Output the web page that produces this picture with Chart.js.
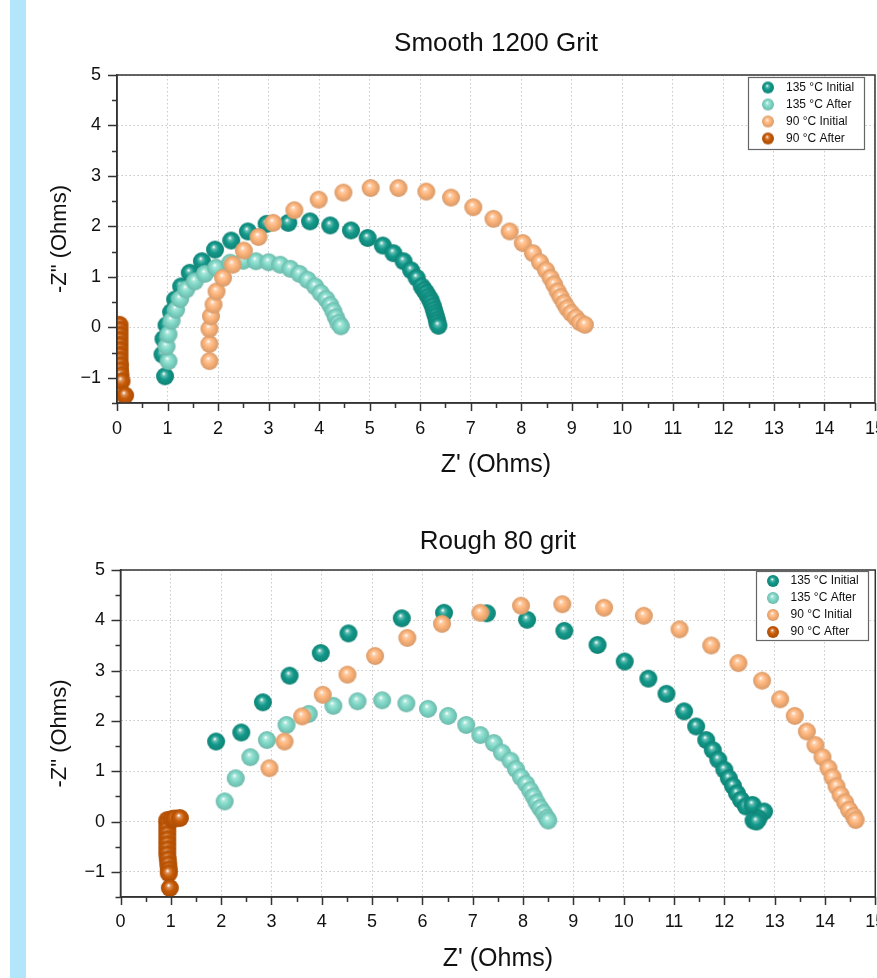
<!DOCTYPE html>
<html>
<head>
<meta charset="utf-8">
<script src="https://cdn.jsdelivr.net/npm/chart.js@4.4.1/dist/chart.umd.min.js"></script>
<style>
  html, body { margin: 0; padding: 0; background: #fff; overflow: hidden; width: 877px; height: 978px; }
  #stripe { position: absolute; left: 10px; top: 0; width: 16px; height: 978px; background: #b3e5fb; }
  canvas { position: absolute; left: 0; }
  #smoothChart { top: 0; }
  #roughChart { top: 490px; }
</style>
</head>
<body>
<div id="stripe"></div>
<canvas id="smoothChart" width="900" height="490"></canvas>
<canvas id="roughChart" width="900" height="500"></canvas>
<script>
// Series names and colours
const seriesLabels = ["135 °C Initial", "135 °C After", "90 °C Initial", "90 °C After"];
const seriesColors = ["#12998a", "#80d9c8", "#fdb47a", "#c85a06"];

// Axis ranges
const xRange = [0, 15];
const yRange = [-1.5, 5];

// Smooth 1200 grit, [Z', -Z"] pairs
const smooth135Initial = [
  [0.95, -0.97], [0.90, -0.54], [0.92, -0.23], [0.98, 0.04], [1.07, 0.30], [1.15, 0.55],
  [1.27, 0.81], [1.44, 1.08], [1.68, 1.31], [1.94, 1.54], [2.26, 1.72], [2.59, 1.90],
  [2.96, 2.05], [3.39, 2.07], [3.82, 2.10], [4.22, 2.02], [4.63, 1.92], [4.96, 1.77],
  [5.26, 1.62], [5.47, 1.47], [5.67, 1.31], [5.82, 1.13], [5.93, 0.98], [6.03, 0.81],
  [6.08, 0.74], [6.12, 0.68], [6.16, 0.61], [6.20, 0.55], [6.22, 0.49], [6.25, 0.42],
  [6.27, 0.35], [6.29, 0.28], [6.31, 0.22], [6.33, 0.15], [6.34, 0.09], [6.36, 0.03]
];
const smooth135After = [
  [1.02, -0.67], [0.98, -0.38], [1.02, -0.14], [1.08, 0.13], [1.17, 0.35], [1.25, 0.56],
  [1.37, 0.75], [1.54, 0.91], [1.74, 1.06], [1.96, 1.18], [2.24, 1.28], [2.50, 1.32],
  [2.75, 1.31], [3.00, 1.29], [3.23, 1.24], [3.43, 1.16], [3.61, 1.06], [3.77, 0.94],
  [3.92, 0.81], [4.03, 0.68], [4.14, 0.56], [4.22, 0.44], [4.28, 0.32], [4.33, 0.20],
  [4.38, 0.09], [4.43, 0.02]
];
const smooth90Initial = [
  [1.83, -0.67], [1.83, -0.33], [1.83, -0.03], [1.86, 0.22], [1.91, 0.45], [1.97, 0.71],
  [2.10, 0.98], [2.29, 1.24], [2.51, 1.52], [2.80, 1.79], [3.09, 2.07], [3.51, 2.32],
  [3.99, 2.53], [4.48, 2.67], [5.02, 2.76], [5.57, 2.76], [6.12, 2.69], [6.61, 2.57],
  [7.05, 2.38], [7.45, 2.15], [7.77, 1.90], [8.03, 1.67], [8.23, 1.47], [8.37, 1.29],
  [8.49, 1.13], [8.58, 0.98], [8.65, 0.85], [8.72, 0.71], [8.78, 0.60], [8.85, 0.48],
  [8.91, 0.38], [8.99, 0.28], [9.08, 0.19], [9.16, 0.10], [9.26, 0.05]
];
const smooth90After = [
  [0.05, 0.05], [0.05, -0.05], [0.05, -0.15], [0.05, -0.25], [0.05, -0.35], [0.05, -0.45],
  [0.05, -0.55], [0.05, -0.65], [0.06, -0.75], [0.06, -0.85], [0.07, -0.95], [0.09, -1.07],
  [0.16, -1.35]
];

// Rough 80 grit
const rough135Initial = [
  [1.90, 1.59], [2.40, 1.77], [2.83, 2.37], [3.36, 2.90], [3.98, 3.35], [4.53, 3.74],
  [5.59, 4.04], [6.43, 4.15], [7.28, 4.14], [8.08, 4.01], [8.82, 3.79], [9.48, 3.51],
  [10.02, 3.18], [10.49, 2.84], [10.85, 2.54], [11.20, 2.19], [11.44, 1.89], [11.64, 1.62],
  [11.77, 1.42], [11.88, 1.23], [12.00, 1.03], [12.09, 0.86], [12.17, 0.71], [12.25, 0.56],
  [12.33, 0.43], [12.43, 0.30], [12.56, 0.33], [12.79, 0.20], [12.68, 0.06], [12.58, 0.02],
  [12.64, 0.00]
];
const rough135After = [
  [2.07, 0.40], [2.29, 0.86], [2.58, 1.28], [2.91, 1.62], [3.30, 1.92], [3.74, 2.14],
  [4.23, 2.30], [4.71, 2.39], [5.20, 2.41], [5.68, 2.35], [6.11, 2.24], [6.51, 2.10],
  [6.87, 1.92], [7.15, 1.72], [7.42, 1.56], [7.58, 1.37], [7.75, 1.21], [7.86, 1.04],
  [7.96, 0.88], [8.06, 0.75], [8.14, 0.62], [8.21, 0.50], [8.27, 0.38], [8.34, 0.27],
  [8.41, 0.17], [8.47, 0.07], [8.50, 0.02]
];
const rough90Initial = [
  [2.96, 1.06], [3.26, 1.59], [3.61, 2.09], [4.02, 2.52], [4.51, 2.92], [5.06, 3.29],
  [5.70, 3.65], [6.39, 3.93], [7.15, 4.15], [7.96, 4.29], [8.78, 4.32], [9.61, 4.25],
  [10.40, 4.09], [11.11, 3.82], [11.74, 3.50], [12.28, 3.15], [12.75, 2.80], [13.11, 2.43],
  [13.40, 2.10], [13.64, 1.79], [13.81, 1.52], [13.95, 1.28], [14.07, 1.06], [14.15, 0.88],
  [14.23, 0.70], [14.31, 0.53], [14.40, 0.38], [14.48, 0.23], [14.57, 0.11], [14.61, 0.03]
];
const rough90After = [
  [0.93, 0.03], [0.93, -0.05], [0.93, -0.15], [0.93, -0.25], [0.93, -0.35], [0.93, -0.45],
  [0.93, -0.55], [0.93, -0.65], [0.94, -0.75], [0.95, -0.85], [0.96, -0.95], [0.96, -1.03],
  [0.98, -1.32], [1.02, 0.05], [1.08, 0.06], [1.18, 0.07]
];

const FONT = "'Liberation Sans', Arial, sans-serif";

// mix two hex colours
function mix(a, b, t) {
  const pa = [1, 3, 5].map((i) => parseInt(a.substr(i, 2), 16));
  const pb = [1, 3, 5].map((i) => parseInt(b.substr(i, 2), 16));
  return "rgb(" + pa.map((v, i) => Math.round(v + (pb[i] - v) * t)).join(",") + ")";
}

// shaded ball used as point style
function makeBall(color, r) {
  const c = document.createElement("canvas");
  const size = Math.ceil(r * 2) + 2;
  c.width = size;
  c.height = size;
  const g = c.getContext("2d");
  const cx = size / 2, cy = size / 2;
  const grad = g.createRadialGradient(cx - r * 0.15, cy - r * 0.3, r * 0.04, cx, cy, r);
  grad.addColorStop(0, "#ffffff");
  grad.addColorStop(0.18, mix(color, "#ffffff", 0.35));
  grad.addColorStop(0.5, color);
  grad.addColorStop(1, mix(color, "#000000", 0.15));
  g.fillStyle = grad;
  g.beginPath();
  g.arc(cx, cy, r, 0, Math.PI * 2);
  g.fill();
  return c;
}

const plotBalls = seriesColors.map((c) => makeBall(c, 9));
const legendBalls = seriesColors.map((c) => makeBall(c, 6));

// frame around plot area plus major/minor tick marks
const frameTicks = {
  id: "frameTicks",
  afterDraw(chart) {
    const { ctx, chartArea: a, scales } = chart;
    const x = scales.x, y = scales.y;
    ctx.save();
    ctx.strokeStyle = "#333";
    ctx.lineWidth = 1.5;
    ctx.strokeRect(a.left, a.top, a.right - a.left, a.bottom - a.top);
    ctx.beginPath();
    for (let v = x.min; v <= x.max + 1e-9; v += 0.5) {
      const px = Math.round(x.getPixelForValue(v)) + 0.5;
      ctx.moveTo(px, a.bottom);
      ctx.lineTo(px, a.bottom + (Number.isInteger(v) ? 8 : 5));
    }
    for (let v = y.min; v <= y.max + 1e-9; v += 0.5) {
      const py = Math.round(y.getPixelForValue(v)) + 0.5;
      ctx.moveTo(a.left, py);
      ctx.lineTo(a.left - (Number.isInteger(v) ? 9 : 5), py);
    }
    ctx.stroke();
    ctx.restore();
  },
};

// boxed legend in the top right corner
const boxLegend = {
  id: "boxLegend",
  afterDraw(chart, args, o) {
    const ctx = chart.ctx;
    ctx.save();
    ctx.fillStyle = "#fff";
    ctx.fillRect(o.x, o.y, o.w, o.h);
    ctx.strokeStyle = "#666";
    ctx.lineWidth = 1.2;
    ctx.strokeRect(o.x, o.y, o.w, o.h);
    ctx.font = "12px " + FONT;
    ctx.textBaseline = "middle";
    ctx.fillStyle = "#111";
    chart.data.datasets.forEach((ds, i) => {
      const yy = o.rowY + i * o.rowGap;
      const img = legendBalls[i];
      ctx.drawImage(img, o.markerX - img.width / 2, yy - img.height / 2);
      ctx.fillText(ds.label, o.textX, yy);
    });
    ctx.restore();
  },
};

function toPoints(pairs) {
  return pairs.map((p) => ({ x: p[0], y: p[1] }));
}

function minusLabel(v) {
  if (!Number.isInteger(v)) return "";
  return v < 0 ? "\u2212" + Math.abs(v) : String(v);
}

function buildChart(canvasId, title, series, geo) {
  const datasets = series.map((s, i) => ({
    label: seriesLabels[i],
    data: toPoints(s),
    pointStyle: plotBalls[i],
    order: 4 - i,
    clip: 0,
  }));

  return new Chart(document.getElementById(canvasId), {
    type: "scatter",
    data: { datasets },
    plugins: [frameTicks, boxLegend],
    options: {
      responsive: false,
      animation: false,
      layout: { padding: { left: 0, right: geo.padRight, top: 0, bottom: 0 } },
      plugins: {
        legend: { display: false },
        tooltip: { enabled: false },
        title: {
          display: true,
          text: title,
          fullSize: false,
          color: "#111",
          font: { family: FONT, size: 26, weight: "normal" },
          padding: { top: geo.titleTop, bottom: geo.titleBottom },
        },
        boxLegend: geo.legend,
      },
      scales: {
        x: {
          type: "linear",
          min: xRange[0],
          max: xRange[1],
          afterFit: (s) => { s.height = geo.xHeight; },
          border: { display: true, color: "#333", width: 1.5, dash: [1.5, 2.5] },
          grid: { color: "#c9c9c9", drawTicks: false, lineWidth: 1 },
          ticks: {
            stepSize: 1,
            autoSkip: false,
            maxRotation: 0,
            padding: geo.xTickPad,
            color: "#111",
            font: { family: FONT, size: 18 },
            callback: minusLabel,
          },
          title: {
            display: true,
            text: "Z' (Ohms)",
            color: "#111",
            font: { family: FONT, size: 25 },
            padding: { top: 0, bottom: geo.xTitleBottom },
          },
        },
        y: {
          type: "linear",
          min: yRange[0],
          max: yRange[1],
          afterFit: (s) => { s.width = geo.yWidth; },
          border: { display: true, color: "#333", width: 1.5, dash: [1.5, 2.5] },
          grid: { color: "#c9c9c9", drawTicks: false, lineWidth: 1 },
          ticks: {
            stepSize: 1,
            includeBounds: false,
            padding: geo.yTickPad,
            color: "#111",
            font: { family: FONT, size: 18 },
            callback: minusLabel,
          },
          title: {
            display: true,
            text: '-Z" (Ohms)',
            color: "#111",
            font: { family: FONT, size: 22 },
            padding: { top: 47, bottom: 0 },
          },
        },
      },
    },
  });
}

buildChart("smoothChart", "Smooth 1200 Grit",
  [smooth135Initial, smooth135After, smooth90Initial, smooth90After],
  {
    padRight: 25, titleTop: 28.4, titleBottom: 15.4,
    xHeight: 87, xTickPad: 15, xTitleBottom: 10,
    yWidth: 117, yTickPad: 16,
    legend: { x: 748.5, y: 77.5, w: 116, h: 72, markerX: 768, textX: 786, rowY: 87.5, rowGap: 17 },
  });

buildChart("roughChart", "Rough 80 grit",
  [rough135Initial, rough135After, rough90Initial, rough90After],
  {
    padRight: 24, titleTop: 36.1, titleBottom: 12.7,
    xHeight: 93, xTickPad: 14.7, xTitleBottom: 16,
    yWidth: 120.5, yTickPad: 15.5,
    legend: { x: 756.5, y: 81.5, w: 112, h: 69, markerX: 773, textX: 790.5, rowY: 91, rowGap: 17 },
  });
</script>
</body>
</html>
